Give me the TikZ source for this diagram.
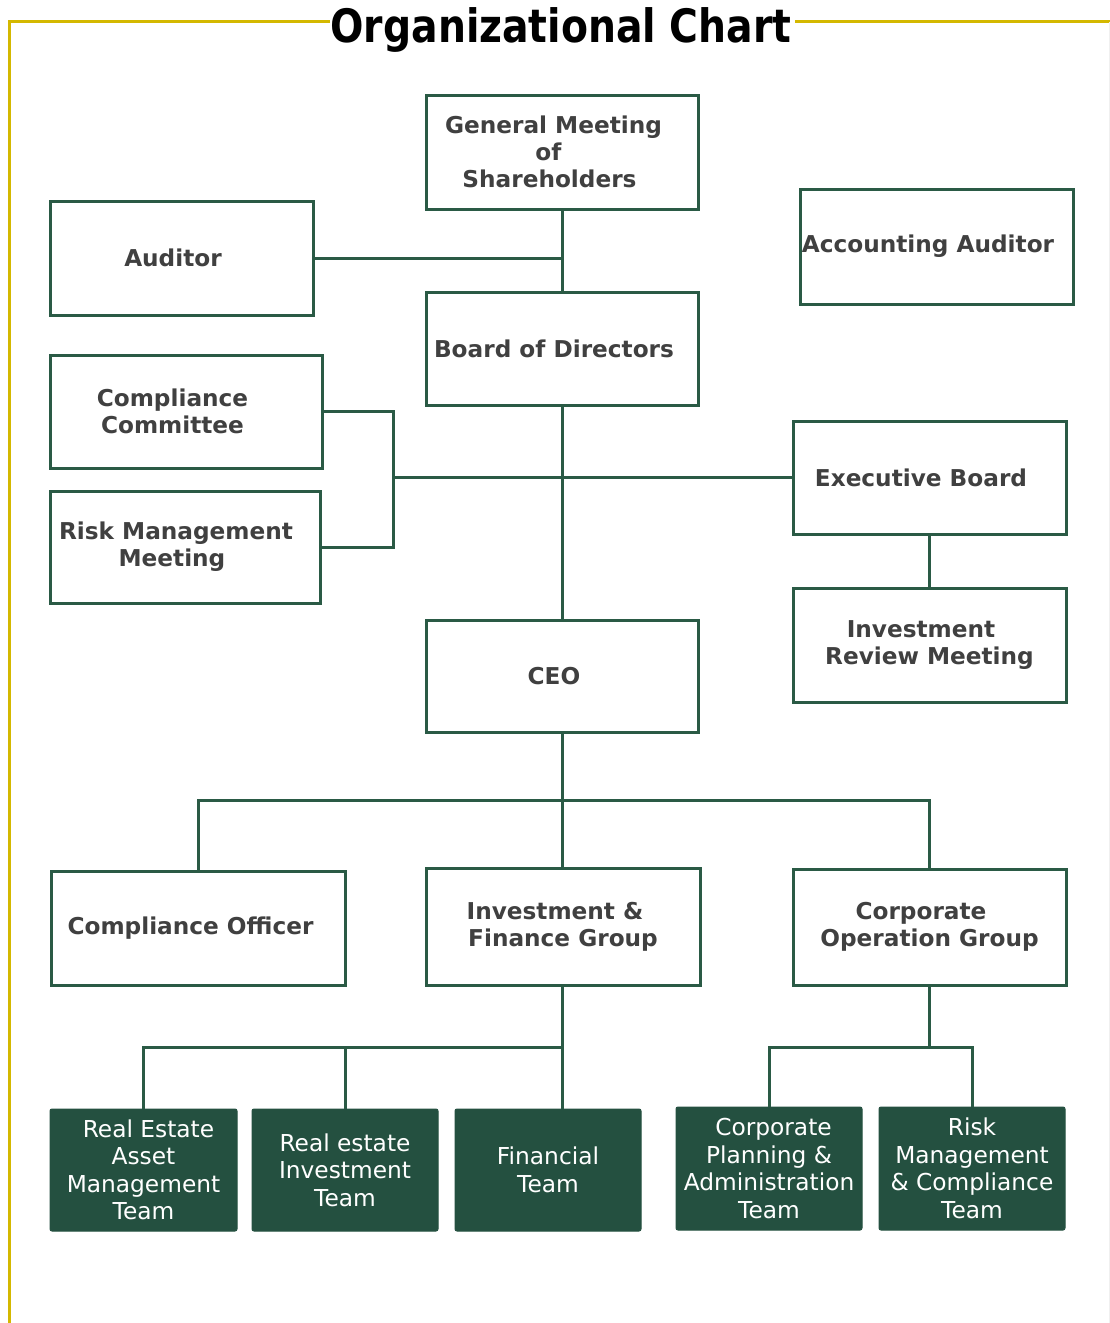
\documentclass[tikz,border=0pt]{standalone}
\usepackage{fontspec}
\usepackage{graphicx}
\setmainfont{DejaVu Sans}
\definecolor{boxline}{HTML}{2A5A45}
\definecolor{boxfill}{HTML}{245040}
\definecolor{frameyellow}{HTML}{D4B800}
\definecolor{txtgrey}{HTML}{404040}
\newcommand\trsp[1]{\hbox to #1pt{}}
\begin{document}
\begin{tikzpicture}[x=1pt,y=-1pt,
  wbox/.style={draw=boxline, line width=3pt, fill=white, inner sep=0pt, align=center,
    text=txtgrey, font=\fontsize{23.2}{27}\selectfont\bfseries},
  dbox/.style={draw=boxfill, line width=1pt, fill=boxfill, rounded corners=2pt, inner sep=0pt,
    align=center, text=white, font=\fontsize{23.3}{27.5}\selectfont},
  conn/.style={draw=boxline, line width=3pt}]
\useasboundingbox (0,0) rectangle (1110,1323);
% frame
\draw[frameyellow, line width=3pt] (330,21) -- (9,21) -- (9,1323);
\draw[frameyellow, line width=3pt] (795,21) -- (1110,21);
\draw[black!6, line width=1pt] (1109,22) -- (1109,1323);
\node[anchor=base, inner sep=0pt, font=\fontsize{46}{50}\selectfont\bfseries] (title) at (561,42)
  {\scalebox{0.855}[1]{Organizational Chart}};
% boxes
\node[wbox, minimum width=272pt, minimum height=114pt] (gm) at (562,152) {General Meeting\trsp{17}\\of\trsp{27}\\Shareholders\trsp{25}};
\node[wbox, minimum width=263pt, minimum height=114pt] (aud) at (181.5,258) {Auditor\trsp{17}};
\node[wbox, minimum width=273pt, minimum height=115pt] (acc) at (936.5,246.5) {Accounting Auditor\trsp{17}};
\node[wbox, minimum width=272pt, minimum height=113pt] (bod) at (562,348.5) {Board of Directors\trsp{16}};
\node[wbox, minimum width=272pt, minimum height=113pt] (cc) at (186,411.5) {Compliance\trsp{27}\\Committee\trsp{27}};
\node[wbox, minimum width=270pt, minimum height=112pt] (rmm) at (185,547) {Risk Management\trsp{18}\\Meeting\trsp{26}};
\node[wbox, minimum width=273pt, minimum height=113pt] (eb) at (929.5,477.5) {Executive Board\trsp{17}};
\node[wbox, minimum width=273pt, minimum height=114pt] (irm) at (929.5,645) {Investment\trsp{17}\\Review Meeting};
\node[wbox, minimum width=272pt, minimum height=112pt] (ceo) at (562,676) {CEO\trsp{16}};
\node[wbox, minimum width=294pt, minimum height=114pt] (co) at (198,928) {Compliance Officer\trsp{15}};
\node[wbox, minimum width=274pt, minimum height=117pt] (ifg) at (563,926.5) {Investment \&\trsp{16}\\Finance Group};
\node[wbox, minimum width=273pt, minimum height=116pt] (cog) at (929.5,927) {Corporate\trsp{17}\\Operation Group};
\node[dbox, minimum width=187pt, minimum height=122pt] (ream) at (143.5,1170) {\trsp{10}Real Estate\\Asset\\Management\\Team};
\node[dbox, minimum width=186pt, minimum height=122pt] (rei) at (345,1170) {Real estate\\Investment\\Team};
\node[dbox, minimum width=186pt, minimum height=122pt] (fin) at (548,1170) {Financial\\Team};
\node[dbox, minimum width=186pt, minimum height=123pt] (cpa) at (769,1168.5) {\trsp{9}Corporate\\Planning \&\\Administration\\Team};
\node[dbox, minimum width=186pt, minimum height=123pt] (rmc) at (972,1168.5) {Risk\\Management\\\& Compliance\\Team};
% junctions
\coordinate (j1) at (393,477.5);
\coordinate (j2) at (562,800);
\coordinate (j3) at (562,1047);
\coordinate (j4) at (929.5,1047);
% connectors
\draw[conn] (gm.south) -- (bod.north);
\draw[conn] (aud.east) -- (aud.east -| gm.south);
\draw[conn] (bod.south) -- (ceo.north);
\draw[conn] (j1) -- (eb.west);
\draw[conn] (cc.east) -| (j1) |- (rmm.east);
\draw[conn] (eb.south) -- (irm.north);
\draw[conn] (ceo.south) -- (ceo.south |- ifg.north);
\draw[conn] (co.north) |- (j2) -| (cog.north);
\draw[conn] (ifg.south -| j3) -- (j3 |- fin.north);
\draw[conn] (ream.north) |- (j3);
\draw[conn] (rei.north) -- (rei.north |- j3);
\draw[conn] (cog.south) -- (j4);
\draw[conn] (cpa.north) |- (j4) -| (rmc.north);
\end{tikzpicture}
\end{document}
